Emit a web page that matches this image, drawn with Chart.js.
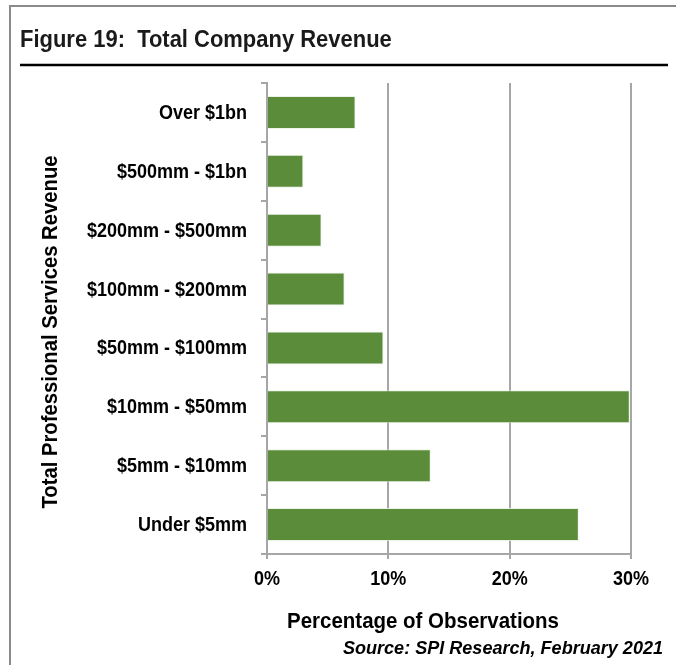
<!DOCTYPE html>
<html>
<head>
<meta charset="utf-8">
<script src="https://cdn.jsdelivr.net/npm/chart.js@4/dist/chart.umd.min.js"></script>
<style>
  html, body { margin: 0; padding: 0; background: #fff; }
  #wrap { width: 676px; height: 665px; }
</style>
</head>
<body>
<div id="wrap"><canvas id="revenueChart" width="676" height="665"></canvas></div>
<script>
const revenueBands = ['Over $1bn', '$500mm - $1bn', '$200mm - $500mm', '$100mm - $200mm',
  '$50mm - $100mm', '$10mm - $50mm', '$5mm - $10mm', 'Under $5mm'];
const shareOfObservations = [7.3, 3.0, 4.5, 6.4, 9.6, 29.9, 13.5, 25.7];
const percentTicks = [0, 10, 20, 30];

const SANS = "'Liberation Sans', Arial, sans-serif";
const NARROW_X = 0.9;   // horizontal squeeze to get a narrow face
const gridGray = '#a6a6a6';

// text squeezed horizontally around its anchor
function narrowText(ctx, text, x, y, font, align, baseline, sx, angle) {
  ctx.save();
  ctx.translate(x, y);
  if (angle) ctx.rotate(angle);
  ctx.scale(sx, 1);
  ctx.font = font;
  ctx.textAlign = align;
  ctx.textBaseline = baseline;
  ctx.fillText(text, 0, 0);
  ctx.restore();
}

// frame, heading, tick labels, axis titles and source line
const decorations = {
  id: 'decorations',
  afterDraw(chart) {
    const ctx = chart.ctx;
    const xs = chart.scales.x;
    const ys = chart.scales.y;
    ctx.save();
    ctx.strokeStyle = '#8a8a8a';
    ctx.lineWidth = 2;
    ctx.beginPath();
    ctx.moveTo(10, 665);
    ctx.lineTo(10, 6);
    ctx.lineTo(676, 6);
    ctx.stroke();

    ctx.fillStyle = '#1a1a1a';
    narrowText(ctx, 'Figure 19:  Total Company Revenue', 20, 47,
      'bold 24px ' + SANS, 'left', 'alphabetic', 0.915);

    ctx.strokeStyle = '#000';
    ctx.lineWidth = 2.5;
    ctx.beginPath();
    ctx.moveTo(20, 65);
    ctx.lineTo(668, 65);
    ctx.stroke();

    ctx.fillStyle = '#000';
    const tickFont = 'bold 20px ' + SANS;
    revenueBands.forEach((band, i) => {
      narrowText(ctx, band, 247, ys.getPixelForTick(i) + 1, tickFont, 'right', 'middle', NARROW_X);
    });
    percentTicks.forEach(v => {
      narrowText(ctx, v + '%', xs.getPixelForValue(v), 579, tickFont, 'center', 'middle', NARROW_X);
    });

    narrowText(ctx, 'Percentage of Observations', 423, 628,
      'bold 22.5px ' + SANS, 'center', 'alphabetic', 0.91);
    narrowText(ctx, 'Total Professional Services Revenue', 57, 332,
      'bold 22.5px ' + SANS, 'center', 'alphabetic', 0.9, -Math.PI / 2);
    narrowText(ctx, 'Source: SPI Research, February 2021', 663, 654,
      'italic bold 19px ' + SANS, 'right', 'alphabetic', 0.95);
    ctx.restore();
  }
};

new Chart(document.getElementById('revenueChart'), {
  type: 'bar',
  data: {
    labels: revenueBands,
    datasets: [{
      label: 'Share of observations',
      data: shareOfObservations,
      backgroundColor: '#5b8c3a',
      borderColor: 'rgba(230, 240, 225, 0.8)',
      borderWidth: 1,
      barPercentage: 0.56,
      categoryPercentage: 1
    }]
  },
  options: {
    indexAxis: 'y',
    responsive: false,
    animation: false,
    layout: { padding: { top: 83, right: 45, left: 0, bottom: 0 } },
    plugins: {
      legend: { display: false },
      tooltip: { enabled: false }
    },
    scales: {
      x: {
        min: 0,
        max: 30,
        afterFit(scale) { scale.height = 111; },
        afterBuildTicks(scale) { scale.ticks = percentTicks.map(v => ({ value: v })); },
        grid: { color: gridGray, lineWidth: 2, tickLength: 5 },
        border: { color: gridGray, width: 2 },
        ticks: { display: false }
      },
      y: {
        afterFit(scale) { scale.width = 267; },
        grid: { drawOnChartArea: false, color: gridGray, lineWidth: 2, tickLength: 6 },
        border: { color: gridGray, width: 2 },
        ticks: { display: false }
      }
    }
  },
  plugins: [decorations]
});
</script>
</body>
</html>
